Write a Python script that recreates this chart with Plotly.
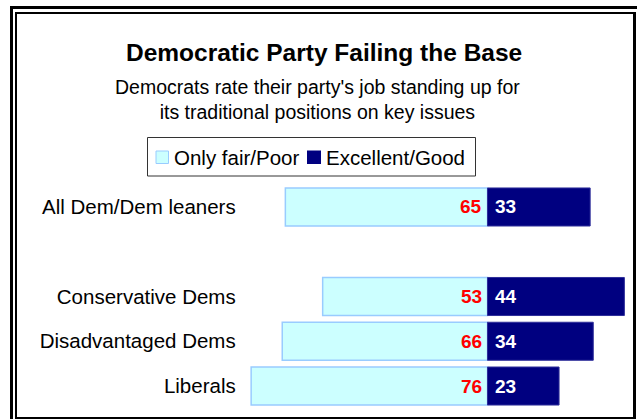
import plotly.graph_objects as go

W, H = 637, 419

# ---- data ----
categories = ["All Dem/Dem leaners", "Conservative Dems", "Disadvantaged Dems", "Liberals"]
poor = [65, 53, 66, 76]          # Only fair/Poor
good = [33, 44, 34, 23]          # Excellent/Good
series_names = ["Only fair/Poor", "Excellent/Good"]
title = "Democratic Party Failing the Base"
subtitle = "Democrats rate their party's job standing up for<br>its traditional positions on key issues"
spacer = " "

FONT = "Liberation Sans, Arial, sans-serif"
LIGHT, LIGHT_EDGE = "#CCFFFF", "#99CCFF"
DARK, DARK_EDGE = "#000080", "#2E2E9A"

order = ["Liberals", "Disadvantaged Dems", "Conservative Dems", spacer, "All Dem/Dem leaners"]


def px(x):
    return x / W


def py(y):
    return 1 - y / H


fig = go.Figure()
fig.add_trace(go.Bar(
    y=categories, x=[-v for v in poor], orientation="h", name=series_names[0],
    marker=dict(color=LIGHT, line=dict(color=LIGHT_EDGE, width=1.5)),
    width=0.85, showlegend=False, hoverinfo="skip"))
fig.add_trace(go.Bar(
    y=categories, x=good, orientation="h", name=series_names[1],
    marker=dict(color=DARK, line=dict(color=DARK_EDGE, width=1)),
    width=0.85, showlegend=False, hoverinfo="skip"))

annotations = []
for c, v in zip(categories, poor):
    annotations.append(dict(x=0, y=c, xref="x", yref="y", text=f"<b>{v}</b>",
                            showarrow=False, xanchor="right", xshift=-4,
                            font=dict(family=FONT, size=19, color="#FF0000")))
for c, v in zip(categories, good):
    annotations.append(dict(x=0, y=c, xref="x", yref="y", text=f"<b>{v}</b>",
                            showarrow=False, xanchor="left", xshift=5,
                            font=dict(family=FONT, size=19, color="#FFFFFF")))

# title / subtitle
annotations.append(dict(x=px(324.5), y=py(53), xref="paper", yref="paper",
                        text=f"<b>{title}</b>", showarrow=False,
                        xanchor="center", yanchor="middle",
                        font=dict(family=FONT, size=24.5, color="#000000")))
annotations.append(dict(x=px(317), y=py(99), xref="paper", yref="paper",
                        text=subtitle, showarrow=False, align="center",
                        xanchor="center", yanchor="middle",
                        font=dict(family=FONT, size=19.5, color="#000000")))
# legend texts
annotations.append(dict(x=px(172), y=py(157), xref="paper", yref="paper",
                        text=series_names[0], showarrow=False,
                        xanchor="left", yanchor="middle",
                        font=dict(family=FONT, size=20.5, color="#000000")))
annotations.append(dict(x=px(324.5), y=py(157), xref="paper", yref="paper",
                        text=series_names[1], showarrow=False,
                        xanchor="left", yanchor="middle",
                        font=dict(family=FONT, size=20.5, color="#000000")))

shapes = []


def rect(x0, y0, x1, y1, fill, line_color=None, lw=0):
    shapes.append(dict(type="rect", xref="paper", yref="paper",
                       x0=px(x0), x1=px(x1), y0=py(y1), y1=py(y0),
                       fillcolor=fill,
                       line=dict(width=lw, color=line_color or fill)))


# frame (double border)
rect(10, 6, 637, 9, "#000000")
rect(10, 6, 13, 419, "#000000")
rect(15, 12, 636, 14, "#000000")
rect(15, 12, 17, 419, "#000000")
rect(633, 12, 636, 419, "#000000")
rect(15, 417, 636, 419, "#000000")
# legend box and swatches
rect(147.5, 137.5, 475.5, 176, "rgba(0,0,0,0)", "#333333", 1)
rect(156, 151, 168.5, 163.5, LIGHT, LIGHT_EDGE, 1)
rect(307, 150.5, 321, 164, DARK, DARK, 0)

fig.update_layout(
    width=W, height=H,
    margin=dict(l=0, r=0, t=0, b=0),
    paper_bgcolor="#FFFFFF", plot_bgcolor="#FFFFFF",
    barmode="relative",
    showlegend=False,
    font=dict(family=FONT, color="#000000"),
    xaxis=dict(range=[-80, 48], domain=[238.7 / W, 636.8 / W],
               showgrid=False, zeroline=False, showticklabels=False,
               ticks="", showline=False, fixedrange=True),
    yaxis=dict(type="category", categoryorder="array", categoryarray=order,
               range=[-0.5, 4.5], domain=[py(408.4), py(184.6)],
               showgrid=False, zeroline=False, ticks="", showline=False,
               tickfont=dict(family=FONT, size=20.5, color="#000000"),
               ticklabelstandoff=2, fixedrange=True),
    annotations=annotations,
    shapes=shapes,
)

fig.write_html(
    "out.html",
    config={"displayModeBar": False},
    post_script="document.body.style.margin='0';document.body.style.overflow='hidden';",
)
